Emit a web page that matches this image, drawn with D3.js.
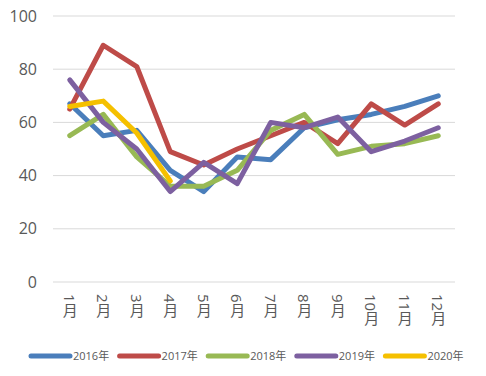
<!DOCTYPE html>
<html lang="zh">
<head>
<meta charset="UTF-8">
<title>月度折线图</title>
<style>
  body { margin: 0; background: #fff; }
  svg { display: block; font-family: "Open Sans", "Noto Sans CJK SC", sans-serif; }
</style>
</head>
<body>
<svg id="chart" width="486" height="376"></svg>
<script src="https://d3js.org/d3.v7.min.js"></script>
<script>
// 数据
const months = ["1月", "2月", "3月", "4月", "5月", "6月", "7月", "8月", "9月", "10月", "11月", "12月"];
const seriesNames = ["2016年", "2017年", "2018年", "2019年", "2020年"];
const colors = ["#4a7ebb", "#be4b48", "#98b954", "#7d60a0", "#f5c000"];
const v2016 = [67, 55, 57, 42, 34, 47, 46, 58, 61, 63, 66, 70];
const v2017 = [65, 89, 81, 49, 44, 50, 55, 60, 52, 67, 59, 67];
const v2018 = [55, 63, 47, 36, 36, 42, 57, 63, 48, 51, 52, 55];
const v2019 = [76, 60, 50, 34, 45, 37, 60, 58, 62, 49, 53, 58];
const v2020 = [66, 68, 56, 38];
const yTicks = [0, 20, 40, 60, 80, 100];

const allValues = [v2016, v2017, v2018, v2019, v2020];

const svg = d3.select("#chart");
const plotLeft = 53, plotRight = 455, plotTop = 16, plotBottom = 282;

const x = d3.scaleBand().domain(months).range([plotLeft, plotRight]);
const y = d3.scaleLinear().domain([0, 100]).range([plotBottom, plotTop]);

// 网格线
svg.append("g")
  .selectAll("line")
  .data(yTicks)
  .join("line")
  .attr("x1", plotLeft).attr("x2", plotRight)
  .attr("y1", d => y(d)).attr("y2", d => y(d))
  .attr("stroke", "#d9d9d9")
  .attr("stroke-width", 1);

// y轴标签
svg.append("g")
  .selectAll("text")
  .data(yTicks)
  .join("text")
  .attr("x", 37)
  .attr("y", d => y(d))
  .attr("dy", "0.35em")
  .attr("text-anchor", "end")
  .attr("fill", "#595959")
  .attr("font-size", 16)
  .text(d => d);

// x轴标签（竖排）
svg.append("g")
  .selectAll("text")
  .data(months)
  .join("text")
  .attr("x", d => x(d) + x.bandwidth() / 2)
  .attr("y", 294)
  .attr("fill", "#595959")
  .attr("font-size", 15)
  .style("writing-mode", "vertical-rl")
  .text(d => d);

// 折线
const line = d3.line()
  .x((d, i) => x(months[i]) + x.bandwidth() / 2)
  .y(d => y(d));

svg.append("g")
  .selectAll("path")
  .data(allValues)
  .join("path")
  .attr("fill", "none")
  .attr("stroke", (d, i) => colors[i])
  .attr("stroke-width", 5)
  .attr("stroke-linejoin", "round")
  .attr("stroke-linecap", "round")
  .attr("d", line);

// 图例
const legend = svg.append("g")
  .selectAll("g")
  .data(seriesNames)
  .join("g")
  .attr("transform", (d, i) => `translate(${31 + i * 88.6},356)`);

legend.append("line")
  .attr("x1", 0).attr("x2", 39)
  .attr("stroke", (d, i) => colors[i])
  .attr("stroke-width", 5)
  .attr("stroke-linecap", "round");

legend.append("text")
  .attr("x", 42)
  .attr("dy", "0.35em")
  .attr("fill", "#595959")
  .attr("font-size", 11)
  .text(d => d);
</script>
</body>
</html>
